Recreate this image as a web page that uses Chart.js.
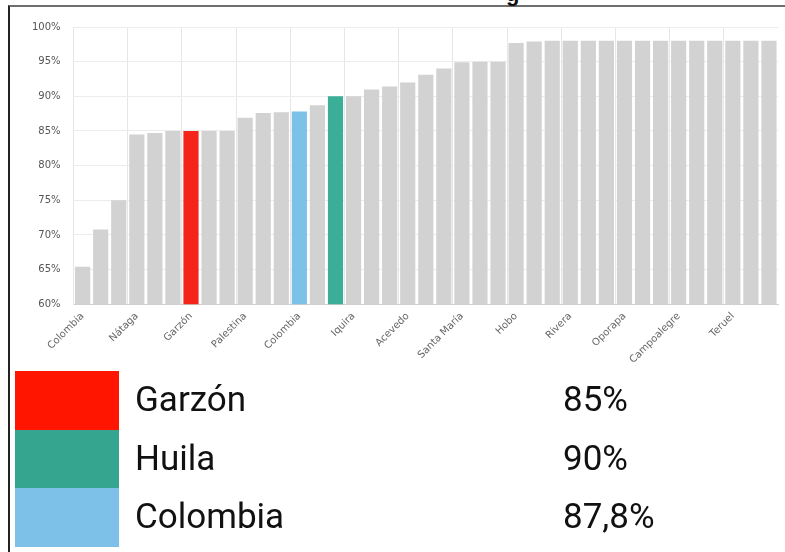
<!DOCTYPE html>
<html>
<head>
<meta charset="utf-8">
<script src="https://cdn.jsdelivr.net/npm/chart.js@4/dist/chart.umd.min.js"></script>
<style>
  body { margin: 0; background: #fff; width: 785px; height: 552px; overflow: hidden; position: relative; font-family: Roboto, sans-serif; }
  #frame { position: absolute; left: 8px; top: 5px; width: 790px; height: 560px; border-top: 2px solid #6e6e6e; border-left: 2px solid #222; }
  #cut-title { position: absolute; left: 506px; top: -19px; font: bold 22px "Liberation Sans", Arial, sans-serif; color: #111; }
  #chart-box { position: absolute; left: 11px; top: 8px; width: 774px; height: 364px; }
  #summary { position: absolute; left: 15px; top: 371px; }
  .row { position: relative; height: 58.5px; }
  .swatch { position: absolute; left: 0; top: 0; width: 104px; height: 100%; }
  .name, .value { position: absolute; top: 0; line-height: 58px; font-size: 35px; color: #111; }
  .name { left: 120px; }
  .value { left: 548px; }
</style>
</head>
<body>
<div id="frame"></div>
<div id="cut-title">g</div>
<div id="chart-box"><canvas id="coverageChart"></canvas></div>
<div id="summary"></div>
<script>
// categories (Huila municipalities + department + country)
const places = [
  "Colombia", "Tello", "Baraya", "Nátaga", "Algeciras", "La Argentina", "Garzón", "Tarqui", "Suaza",
  "Palestina", "Elías", "Timaná", "Colombia", "Gigante", "Huila", "Iquira", "Aipe", "Paicol",
  "Acevedo", "Isnos", "Pitalito", "Santa María", "Tesalia", "Yaguará", "Hobo", "Guadalupe", "Saladoblanco",
  "Rivera", "Palermo", "Villavieja", "Oporapa", "Altamira", "La Plata", "Campoalegre", "Agrado", "Pital",
  "Teruel", "San Agustín", "Neiva"
];
const coverage = [
  65.4, 70.8, 75.0, 84.5, 84.7, 85.0, 85.0, 85.0, 85.0,
  86.9, 87.6, 87.7, 87.8, 88.7, 90.0, 90.0, 91.0, 91.4,
  92.0, 93.1, 94.0, 94.9, 95.0, 95.0, 97.7, 97.9, 98.0,
  98.0, 98.0, 98.0, 98.0, 98.0, 98.0, 98.0, 98.0, 98.0,
  98.0, 98.0, 98.0
];
const summaryNames = ["Garzón", "Huila", "Colombia"];
const summaryValues = ["85%", "90%", "87,8%"];

// styling
const GRAY = "#d2d2d2";
const barHighlight = { 6: "#f4241a", 14: "#3aae96", 12: "#7cc1e8" };
const swatchColors = ["#ff1500", "#35a58f", "#7dc1e8"];
const LABEL_EVERY = 3;

document.addEventListener("DOMContentLoaded", () => {
  new Chart(document.getElementById("coverageChart"), {
    type: "bar",
    data: {
      labels: places,
      datasets: [{
        data: coverage,
        backgroundColor: places.map((p, i) => barHighlight[i] || GRAY),
        barPercentage: 0.84,
        categoryPercentage: 1
      }]
    },
    options: {
      responsive: true,
      maintainAspectRatio: false,
      animation: false,
      layout: { padding: { top: 16, right: 7, left: 8, bottom: 0 } },
      plugins: { legend: { display: false }, tooltip: { enabled: false } },
      scales: {
        x: {
          grid: {
            offset: true,
            drawTicks: false,
            color: ctx => (ctx.index % LABEL_EVERY === 0 ? "#e6e6e6" : "rgba(0,0,0,0)")
          },
          border: { color: "#cfcfcf" },
          ticks: {
            autoSkip: false,
            minRotation: 45,
            maxRotation: 45,
            padding: 6,
            color: "#666",
            font: { family: "DejaVu Sans", size: 10 },
            callback: function (v, i) { return i % LABEL_EVERY === 0 ? this.getLabelForValue(v) : ""; }
          }
        },
        y: {
          min: 60,
          max: 100,
          grid: { color: "#ececec", drawTicks: false },
          border: { color: "#e6e6e6" },
          ticks: {
            stepSize: 5,
            padding: 13,
            color: "#555",
            font: { family: "DejaVu Sans", size: 10 },
            callback: v => v + "%"
          }
        }
      }
    }
  });

  // summary table under the chart
  const box = document.getElementById("summary");
  box.innerHTML = summaryNames.map((n, i) => `<div class="row">
      <div class="swatch" style="background:${swatchColors[i]}"></div>
      <div class="name">${n}</div>
      <div class="value">${summaryValues[i]}</div>
    </div>`).join("");
});
</script>
</body>
</html>
